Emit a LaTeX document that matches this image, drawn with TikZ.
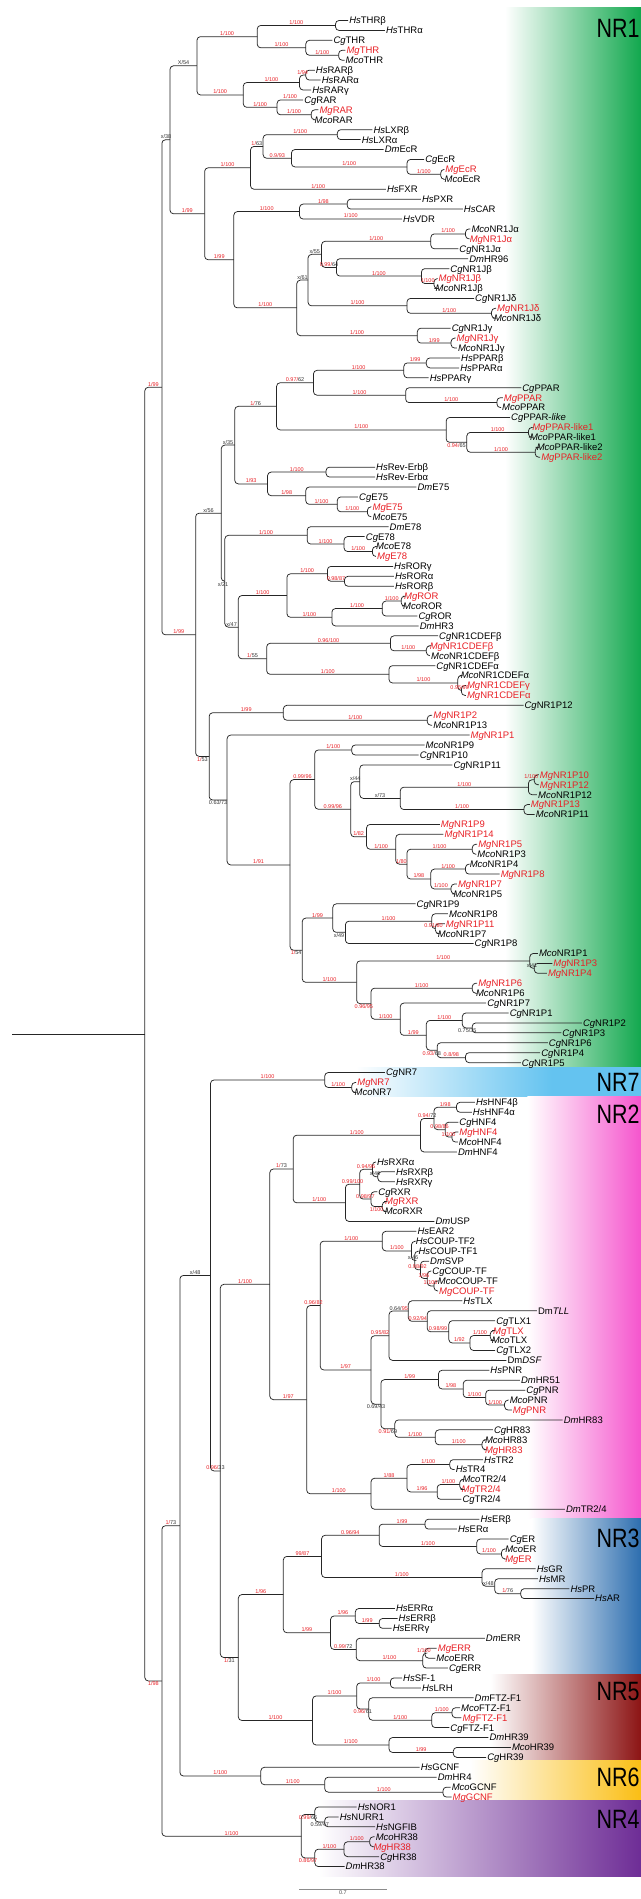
\documentclass[tikz,border=0pt]{standalone}
\usepackage{fontspec}
\setmainfont{Liberation Sans}
\usetikzlibrary{calc}
\definecolor{mgred}{RGB}{232,32,38}
\definecolor{nrone}{RGB}{18,168,78}
\definecolor{nrseven}{RGB}{100,195,240}
\definecolor{nrtwo}{RGB}{245,85,205}
\definecolor{nrthree}{RGB}{45,110,175}
\definecolor{nrfive}{RGB}{140,20,20}
\definecolor{nrsix}{RGB}{250,190,20}
\definecolor{nrfour}{RGB}{110,45,150}
\newcommand\unitx{0.4088pt}
\newcommand\gn[2]{\textit{#1}#2}
\newcommand\rd[1]{\textcolor{mgred}{#1}}
\newcommand\rowy[1]{20.5+9.925*#1}
% internal node: name, x, first child, last child, label to first, label to last
\newcommand\jn[6]{%
  \path let \p1=(#3), \p2=(#4) in coordinate (#1) at (#2*\unitx,{(\y1+\y2)/2});
  \draw[br] (#1) |- node[sl]{#5} (#3) (#1) |- node[sl]{#6} (#4);}
\newcommand\supb[3]{\path (#1) |- node[sl,below]{#3} (#2);}
\tikzset{
  br/.style={line width=.75pt,draw=black!85,rounded corners=3.5pt},
  lf/.style={anchor=west,inner xsep=1pt,inner ysep=0pt,text height=6.8pt,text depth=0pt,
    font=\fontsize{9.5}{10}\selectfont},
  mg/.style={lf,text=mgred},
  sl/.style={pos=.75,above,inner sep=.6pt,font=\fontsize{5.5}{6}\selectfont,text=black!80},
  nrlab/.style={anchor=east,inner sep=0pt,xscale=.81,font=\fontsize{26.5}{28}\selectfont}
}

\begin{document}
\begin{tikzpicture}[x=0.4088pt,y=-1pt]
\useasboundingbox (0,0) rectangle (1568,1899);
% family bands
\shade[left color=white,right color=nrone] (1235,7.3) rectangle (1568,1067);
\shade[left color=white,right color=nrseven] (870,1067) rectangle (1350,1096);
\fill[nrseven] (1350,1067) rectangle (1568,1096);
\shade[left color=white,right color=nrtwo] (1290,1096) rectangle (1568,1518);
\shade[left color=white,right color=nrthree] (1300,1518) rectangle (1568,1674);
\shade[left color=white,right color=nrfive] (1200,1674) rectangle (1568,1760);
\shade[left color=white,right color=nrsix] (1150,1760) rectangle (1568,1800);
\shade[left color=white,right color=nrfour] (780,1800) rectangle (1568,1876);
\node[nrlab] (lab1) at (1565,28) {NR1};
\node[nrlab] (lab7) at (1565,1082) {NR7};
\node[nrlab] (lab2) at (1565,1114) {NR2};
\node[nrlab] (lab3) at (1565,1538) {NR3};
\node[nrlab] (lab5) at (1565,1691) {NR5};
\node[nrlab] (lab6) at (1565,1777) {NR6};
\node[nrlab] (lab4) at (1565,1819) {NR4};

\begin{scope}[xscale=1.1,xshift=60*\unitx]
% leaves
\node[lf] (hsthrb) at (714,\rowy{0}) {\gn{Hs}{THRβ}};
\node[lf] (hsthra) at (796,\rowy{1}) {\gn{Hs}{THRα}};
\node[lf] (cgthr) at (679,\rowy{2}) {\gn{Cg}{THR}};
\node[mg] (mgthr) at (708,\rowy{3}) {\gn{Mg}{THR}};
\node[lf] (mcothr) at (706,\rowy{4}) {\gn{Mco}{THR}};
\node[lf] (hsrarb) at (640,\rowy{5}) {\gn{Hs}{RARβ}};
\node[lf] (hsrara) at (653,\rowy{6}) {\gn{Hs}{RARα}};
\node[lf] (hsrarg) at (632,\rowy{7}) {\gn{Hs}{RARγ}};
\node[lf] (cgrar) at (614,\rowy{8}) {\gn{Cg}{RAR}};
\node[mg] (mgrar) at (648,\rowy{9}) {\gn{Mg}{RAR}};
\node[lf] (mcorar) at (637,\rowy{10}) {\gn{Mco}{RAR}};
\node[lf] (hslxrb) at (768,\rowy{11}) {\gn{Hs}{LXRβ}};
\node[lf] (hslxra) at (742,\rowy{12}) {\gn{Hs}{LXRα}};
\node[lf] (dmecr) at (793,\rowy{13}) {\gn{Dm}{EcR}};
\node[lf] (cgecr) at (883,\rowy{14}) {\gn{Cg}{EcR}};
\node[mg] (mgecr) at (928,\rowy{15}) {\gn{Mg}{EcR}};
\node[lf] (mcoecr) at (926,\rowy{16}) {\gn{Mco}{EcR}};
\node[lf] (hsfxr) at (798,\rowy{17}) {\gn{Hs}{FXR}};
\node[lf] (hspxr) at (876,\rowy{18}) {\gn{Hs}{PXR}};
\node[lf] (hscar) at (969,\rowy{19}) {\gn{Hs}{CAR}};
\node[lf] (hsvdr) at (834,\rowy{20}) {\gn{Hs}{VDR}};
\node[lf] (mcoja) at (986,\rowy{21}) {\gn{Mco}{NR1Jα}};
\node[mg] (mgja) at (982,\rowy{22}) {\gn{Mg}{NR1Jα}};
\node[lf] (cgja) at (959,\rowy{23}) {\gn{Cg}{NR1Jα}};
\node[lf] (dmhr96) at (981,\rowy{24}) {\gn{Dm}{HR96}};
\node[lf] (cgjb) at (939,\rowy{25}) {\gn{Cg}{NR1Jβ}};
\node[mg] (mgjb) at (913,\rowy{26}) {\gn{Mg}{NR1Jβ}};
\node[lf] (mcojb) at (906,\rowy{27}) {\gn{Mco}{NR1Jβ}};
\node[lf] (cgjd) at (994,\rowy{28}) {\gn{Cg}{NR1Jδ}};
\node[mg] (mgjd) at (1043,\rowy{29}) {\gn{Mg}{NR1Jδ}};
\node[lf] (mcojd) at (1036,\rowy{30}) {\gn{Mco}{NR1Jδ}};
\node[lf] (cgjg) at (942,\rowy{31}) {\gn{Cg}{NR1Jγ}};
\node[mg] (mgjg) at (953,\rowy{32}) {\gn{Mg}{NR1Jγ}};
\node[lf] (mcojg) at (956,\rowy{33}) {\gn{Mco}{NR1Jγ}};
\node[lf] (hspparb) at (963,\rowy{34}) {\gn{Hs}{PPARβ}};
\node[lf] (hsppara) at (961,\rowy{35}) {\gn{Hs}{PPARα}};
\node[lf] (hspparg) at (893,\rowy{36}) {\gn{Hs}{PPARγ}};
\node[lf] (cgppar) at (1099,\rowy{37}) {\gn{Cg}{PPAR}};
\node[mg] (mgppar) at (1058,\rowy{38}) {\gn{Mg}{PPAR}};
\node[lf] (mcoppar) at (1054,\rowy{39}) {\gn{Mco}{PPAR}};
\node[lf] (cgpl) at (1074,\rowy{40}) {\gn{Cg}{PPAR-\textit{like}}};
\node[mg] (mgpl1) at (1121,\rowy{41}) {\gn{Mg}{PPAR-like1}};
\node[lf] (mcopl1) at (1116,\rowy{42}) {\gn{Mco}{PPAR-like1}};
\node[lf] (mcopl2) at (1131,\rowy{43}) {\gn{Mco}{PPAR-like2}};
\node[mg] (mgpl2) at (1141,\rowy{44}) {\gn{Mg}{PPAR-like2}};
\node[lf] (hsrevb) at (774,\rowy{45}) {\gn{Hs}{Rev-Erbβ}};
\node[lf] (hsreva) at (774,\rowy{46}) {\gn{Hs}{Rev-Erbα}};
\node[lf] (dme75) at (866,\rowy{47}) {\gn{Dm}{E75}};
\node[lf] (cge75) at (736,\rowy{48}) {\gn{Cg}{E75}};
\node[mg] (mge75) at (766,\rowy{49}) {\gn{Mg}{E75}};
\node[lf] (mcoe75) at (766,\rowy{50}) {\gn{Mco}{E75}};
\node[lf] (dme78) at (804,\rowy{51}) {\gn{Dm}{E78}};
\node[lf] (cge78) at (751,\rowy{52}) {\gn{Cg}{E78}};
\node[lf] (mcoe78) at (774,\rowy{53}) {\gn{Mco}{E78}};
\node[mg] (mge78) at (776,\rowy{54}) {\gn{Mg}{E78}};
\node[lf] (hsrorg) at (814,\rowy{55}) {\gn{Hs}{RORγ}};
\node[lf] (hsrora) at (816,\rowy{56}) {\gn{Hs}{RORα}};
\node[lf] (hsrorb) at (816,\rowy{57}) {\gn{Hs}{RORβ}};
\node[mg] (mgror) at (836,\rowy{58}) {\gn{Mg}{ROR}};
\node[lf] (mcoror) at (834,\rowy{59}) {\gn{Mco}{ROR}};
\node[lf] (cgror) at (868,\rowy{60}) {\gn{Cg}{ROR}};
\node[lf] (dmhr3) at (871,\rowy{61}) {\gn{Dm}{HR3}};
\node[lf] (cgcdb) at (914,\rowy{62}) {\gn{Cg}{NR1CDEFβ}};
\node[mg] (mgcdb) at (893,\rowy{63}) {\gn{Mg}{NR1CDEFβ}};
\node[lf] (mcocdb) at (896,\rowy{64}) {\gn{Mco}{NR1CDEFβ}};
\node[lf] (cgcda) at (908,\rowy{65}) {\gn{Cg}{NR1CDEFα}};
\node[lf] (mcocda) at (962,\rowy{66}) {\gn{Mco}{NR1CDEFα}};
\node[mg] (mgcdg) at (976,\rowy{67}) {\gn{Mg}{NR1CDEFγ}};
\node[mg] (mgcda) at (976,\rowy{68}) {\gn{Mg}{NR1CDEFα}};
\node[lf] (cgp12) at (1104,\rowy{69}) {\gn{Cg}{NR1P12}};
\node[mg] (mgp2) at (901,\rowy{70}) {\gn{Mg}{NR1P2}};
\node[lf] (mcop13) at (901,\rowy{71}) {\gn{Mco}{NR1P13}};
\node[mg] (mgp1) at (984,\rowy{72}) {\gn{Mg}{NR1P1}};
\node[lf] (mcop9) at (884,\rowy{73}) {\gn{Mco}{NR1P9}};
\node[lf] (cgp10) at (871,\rowy{74}) {\gn{Cg}{NR1P10}};
\node[lf] (cgp11) at (946,\rowy{75}) {\gn{Cg}{NR1P11}};
\node[mg] (mgp10) at (1138,\rowy{76}) {\gn{Mg}{NR1P10}};
\node[mg] (mgp12) at (1138,\rowy{77}) {\gn{Mg}{NR1P12}};
\node[lf] (mcop12) at (1134,\rowy{78}) {\gn{Mco}{NR1P12}};
\node[mg] (mgp13) at (1118,\rowy{79}) {\gn{Mg}{NR1P13}};
\node[lf] (mcop11) at (1129,\rowy{80}) {\gn{Mco}{NR1P11}};
\node[mg] (mgp9) at (918,\rowy{81}) {\gn{Mg}{NR1P9}};
\node[mg] (mgp14) at (926,\rowy{82}) {\gn{Mg}{NR1P14}};
\node[mg] (mgp5) at (1001,\rowy{83}) {\gn{Mg}{NR1P5}};
\node[lf] (mcop3) at (999,\rowy{84}) {\gn{Mco}{NR1P3}};
\node[lf] (mcop4) at (982,\rowy{85}) {\gn{Mco}{NR1P4}};
\node[mg] (mgp8) at (1051,\rowy{86}) {\gn{Mg}{NR1P8}};
\node[mg] (mgp7) at (956,\rowy{87}) {\gn{Mg}{NR1P7}};
\node[lf] (mcop5) at (946,\rowy{88}) {\gn{Mco}{NR1P5}};
\node[lf] (cgp9) at (864,\rowy{89}) {\gn{Cg}{NR1P9}};
\node[lf] (mcop8) at (936,\rowy{90}) {\gn{Mco}{NR1P8}};
\node[mg] (mgp11) at (929,\rowy{91}) {\gn{Mg}{NR1P11}};
\node[lf] (mcop7) at (911,\rowy{92}) {\gn{Mco}{NR1P7}};
\node[lf] (cgp8) at (993,\rowy{93}) {\gn{Cg}{NR1P8}};
\node[lf] (mcop1) at (1136,\rowy{94}) {\gn{Mco}{NR1P1}};
\node[mg] (mgp3) at (1168,\rowy{95}) {\gn{Mg}{NR1P3}};
\node[mg] (mgp4) at (1156,\rowy{96}) {\gn{Mg}{NR1P4}};
\node[mg] (mgp6) at (1001,\rowy{97}) {\gn{Mg}{NR1P6}};
\node[lf] (mcop6) at (996,\rowy{98}) {\gn{Mco}{NR1P6}};
\node[lf] (cgp7) at (1021,\rowy{99}) {\gn{Cg}{NR1P7}};
\node[lf] (cgp1) at (1071,\rowy{100}) {\gn{Cg}{NR1P1}};
\node[lf] (cgp2) at (1234,\rowy{101}) {\gn{Cg}{NR1P2}};
\node[lf] (cgp3) at (1188,\rowy{102}) {\gn{Cg}{NR1P3}};
\node[lf] (cgp6) at (1158,\rowy{103}) {\gn{Cg}{NR1P6}};
\node[lf] (cgp4) at (1141,\rowy{104}) {\gn{Cg}{NR1P4}};
\node[lf] (cgp5) at (1098,\rowy{105}) {\gn{Cg}{NR1P5}};
\node[lf] (cgnr7) at (796,\rowy{106}) {\gn{Cg}{NR7}};
\node[mg] (mgnr7) at (732,\rowy{107}) {\gn{Mg}{NR7}};
\node[lf] (mconr7) at (726,\rowy{108}) {\gn{Mco}{NR7}};
\node[lf] (hshnfb) at (996,\rowy{109}) {\gn{Hs}{HNF4β}};
\node[lf] (hshnfa) at (989,\rowy{110}) {\gn{Hs}{HNF4α}};
\node[lf] (cghnf) at (959,\rowy{111}) {\gn{Cg}{HNF4}};
\node[mg] (mghnf) at (959,\rowy{112}) {\gn{Mg}{HNF4}};
\node[lf] (mcohnf) at (958,\rowy{113}) {\gn{Mco}{HNF4}};
\node[lf] (dmhnf) at (956,\rowy{114}) {\gn{Dm}{HNF4}};
\node[lf] (hsrxra) at (776,\rowy{115}) {\gn{Hs}{RXRα}};
\node[lf] (hsrxrb) at (818,\rowy{116}) {\gn{Hs}{RXRβ}};
\node[lf] (hsrxrg) at (818,\rowy{117}) {\gn{Hs}{RXRγ}};
\node[lf] (cgrxr) at (779,\rowy{118}) {\gn{Cg}{RXR}};
\node[mg] (mgrxr) at (794,\rowy{119}) {\gn{Mg}{RXR}};
\node[lf] (mcorxr) at (793,\rowy{120}) {\gn{Mco}{RXR}};
\node[lf] (dmusp) at (906,\rowy{121}) {\gn{Dm}{USP}};
\node[lf] (hsear) at (866,\rowy{122}) {\gn{Hs}{EAR2}};
\node[lf] (hscoup2) at (862,\rowy{123}) {\gn{Hs}{COUP-TF2}};
\node[lf] (hscoup1) at (868,\rowy{124}) {\gn{Hs}{COUP-TF1}};
\node[lf] (dmsvp) at (894,\rowy{125}) {\gn{Dm}{SVP}};
\node[lf] (cgcoup) at (899,\rowy{126}) {\gn{Cg}{COUP-TF}};
\node[lf] (mcocoup) at (911,\rowy{127}) {\gn{Mco}{COUP-TF}};
\node[mg] (mgcoup) at (914,\rowy{128}) {\gn{Mg}{COUP-TF}};
\node[lf] (hstlx) at (968,\rowy{129}) {\gn{Hs}{TLX}};
\node[lf] (dmtll) at (1134,\rowy{130}) {Dm\textit{TLL}};
\node[lf] (cgtlx1) at (1041,\rowy{131}) {\gn{Cg}{TLX1}};
\node[mg] (mgtlx) at (1034,\rowy{132}) {\gn{Mg}{TLX}};
\node[lf] (mcotlx) at (1031,\rowy{133}) {\gn{Mco}{TLX}};
\node[lf] (cgtlx2) at (1041,\rowy{134}) {\gn{Cg}{TLX2}};
\node[lf] (dmdsf) at (1066,\rowy{135}) {Dm\textit{DSF}};
\node[lf] (hspnr) at (1028,\rowy{136}) {\gn{Hs}{PNR}};
\node[lf] (dmhr51) at (1096,\rowy{137}) {\gn{Dm}{HR51}};
\node[lf] (cgpnr) at (1108,\rowy{138}) {\gn{Cg}{PNR}};
\node[lf] (mcopnr) at (1071,\rowy{139}) {\gn{Mco}{PNR}};
\node[mg] (mgpnr) at (1078,\rowy{140}) {\gn{Mg}{PNR}};
\node[lf] (dmhr83) at (1191,\rowy{141}) {\gn{Dm}{HR83}};
\node[lf] (cghr83) at (1036,\rowy{142}) {\gn{Cg}{HR83}};
\node[lf] (mcohr83) at (1016,\rowy{143}) {\gn{Mco}{HR83}};
\node[mg] (mghr83) at (1016,\rowy{144}) {\gn{Mg}{HR83}};
\node[lf] (hstr2) at (1014,\rowy{145}) {\gn{Hs}{TR2}};
\node[lf] (hstr4) at (951,\rowy{146}) {\gn{Hs}{TR4}};
\node[lf] (mcotr) at (966,\rowy{147}) {\gn{Mco}{TR2/4}};
\node[mg] (mgtr) at (964,\rowy{148}) {\gn{Mg}{TR2/4}};
\node[lf] (cgtr) at (966,\rowy{149}) {\gn{Cg}{TR2/4}};
\node[lf] (dmtr) at (1196,\rowy{150}) {\gn{Dm}{TR2/4}};
\node[lf] (hserb) at (1006,\rowy{151}) {\gn{Hs}{ERβ}};
\node[lf] (hsera) at (956,\rowy{152}) {\gn{Hs}{ERα}};
\node[lf] (cger) at (1071,\rowy{153}) {\gn{Cg}{ER}};
\node[lf] (mcoer) at (1061,\rowy{154}) {\gn{Mco}{ER}};
\node[mg] (mger) at (1061,\rowy{155}) {\gn{Mg}{ER}};
\node[lf] (hsgr) at (1131,\rowy{156}) {\gn{Hs}{GR}};
\node[lf] (hsmr) at (1136,\rowy{157}) {\gn{Hs}{MR}};
\node[lf] (hspr) at (1206,\rowy{158}) {\gn{Hs}{PR}};
\node[lf] (hsar) at (1261,\rowy{159}) {\gn{Hs}{AR}};
\node[lf] (hserra) at (818,\rowy{160}) {\gn{Hs}{ERRα}};
\node[lf] (hserrb) at (824,\rowy{161}) {\gn{Hs}{ERRβ}};
\node[lf] (hserrg) at (811,\rowy{162}) {\gn{Hs}{ERRγ}};
\node[lf] (dmerr) at (1018,\rowy{163}) {\gn{Dm}{ERR}};
\node[mg] (mgerr) at (911,\rowy{164}) {\gn{Mg}{ERR}};
\node[lf] (mcoerr) at (908,\rowy{165}) {\gn{Mco}{ERR}};
\node[lf] (cgerr) at (936,\rowy{166}) {\gn{Cg}{ERR}};
\node[lf] (hssf) at (834,\rowy{167}) {\gn{Hs}{SF-1}};
\node[lf] (hslrh) at (876,\rowy{168}) {\gn{Hs}{LRH}};
\node[lf] (dmftz) at (993,\rowy{169}) {\gn{Dm}{FTZ-F1}};
\node[lf] (mcoftz) at (963,\rowy{170}) {\gn{Mco}{FTZ-F1}};
\node[mg] (mgftz) at (966,\rowy{171}) {\gn{Mg}{FTZ-F1}};
\node[lf] (cgftz) at (939,\rowy{172}) {\gn{Cg}{FTZ-F1}};
\node[lf] (dmhr39) at (1026,\rowy{173}) {\gn{Dm}{HR39}};
\node[lf] (mcohr39) at (1076,\rowy{174}) {\gn{Mco}{HR39}};
\node[lf] (cghr39) at (1021,\rowy{175}) {\gn{Cg}{HR39}};
\node[lf] (hsgcnf) at (873,\rowy{176}) {\gn{Hs}{GCNF}};
\node[lf] (dmhr4) at (911,\rowy{177}) {\gn{Dm}{HR4}};
\node[lf] (mcogcnf) at (942,\rowy{178}) {\gn{Mco}{GCNF}};
\node[mg] (mggcnf) at (944,\rowy{179}) {\gn{Mg}{GCNF}};
\node[lf] (hsnor) at (733,\rowy{180}) {\gn{Hs}{NOR1}};
\node[lf] (hsnurr) at (693,\rowy{181}) {\gn{Hs}{NURR1}};
\node[lf] (hsngfib) at (774,\rowy{182}) {\gn{Hs}{NGFIB}};
\node[lf] (mcohr38) at (773,\rowy{183}) {\gn{Mco}{HR38}};
\node[mg] (mghr38) at (768,\rowy{184}) {\gn{Mg}{HR38}};
\node[lf] (cghr38) at (783,\rowy{185}) {\gn{Cg}{HR38}};
\node[lf] (dmhr38) at (706,\rowy{186}) {\gn{Dm}{HR38}};

% NR1
\jn{thr1}{686}{hsthrb}{hsthra}{}{}
\jn{thr2}{693}{mgthr}{mcothr}{}{}
\jn{thr3}{620}{cgthr}{thr2}{}{\rd{1/100}}
\jn{thr4}{512}{thr1}{thr3}{\rd{1/100}}{\rd{1/100}}
\jn{rar1}{620}{hsrarb}{hsrara}{}{}
\jn{rar2}{606}{rar1}{hsrarg}{\rd{1/94}}{}
\jn{rar3}{632}{mgrar}{mcorar}{}{}
\jn{rar4}{556}{cgrar}{rar3}{\rd{1/100}}{\rd{1/100}}
\jn{rar5}{481}{rar2}{rar4}{\rd{1/100}}{\rd{1/100}}
\jn{thrrar}{378}{thr4}{rar5}{\rd{1/100}}{\rd{1/100}}
\jn{lxr}{690}{hslxrb}{hslxra}{}{}
\jn{ecr1}{920}{mgecr}{mcoecr}{}{}
\jn{ecr2}{845}{cgecr}{ecr1}{}{\rd{1/100}}
\jn{ecr3}{588}{dmecr}{ecr2}{}{\rd{1/100}}
\jn{lxecr}{525}{lxr}{ecr3}{\rd{1/100}}{\rd{0.9/93}}
\jn{fxr}{497}{lxecr}{hsfxr}{\rd{1/}63}{\rd{1/100}}
\jn{pxr1}{712}{hspxr}{hscar}{}{}
\jn{pxr2}{606}{pxr1}{hsvdr}{\rd{1/98}}{\rd{1/100}}
\jn{j1}{975}{mcoja}{mgja}{}{}
\jn{j2}{898}{j1}{cgja}{\rd{1/100}}{}
\jn{j3}{905}{mgjb}{mcojb}{}{}
\jn{j4}{877}{cgjb}{j3}{}{\rd{1/100}}
\jn{j5}{688}{dmhr96}{j4}{}{\rd{1/100}}
\jn{j6}{655}{j2}{j5}{\rd{1/100}}{\rd{0.99/}64}
\jn{jd1}{1033}{mgjd}{mcojd}{}{}
\jn{jd2}{845}{cgjd}{jd1}{}{\rd{1/100}}
\jn{j7}{625}{j6}{jd2}{x/55}{\rd{1/100}}
\jn{jg1}{943}{mgjg}{mcojg}{}{}
\jn{jg2}{868}{cgjg}{jg1}{}{\rd{1/99}}
\jn{j8}{600}{j7}{jg2}{x/61}{\rd{1/100}}
\jn{pxj}{460}{pxr2}{j8}{\rd{1/100}}{\rd{1/100}}
\jn{fxpx}{395}{fxr}{pxj}{\rd{1/100}}{\rd{1/99}}
\jn{nr1a}{318}{thrrar}{fxpx}{X/54}{\rd{1/99}}
\jn{pp1}{888}{hspparb}{hsppara}{}{}
\jn{pp2}{838}{pp1}{hspparg}{\rd{1/99}}{}
\jn{pp3}{1045}{mgppar}{mcoppar}{}{}
\jn{pp4}{842}{cgppar}{pp3}{}{\rd{1/100}}
\jn{pp5}{637}{pp2}{pp4}{\rd{1/100}}{\rd{1/100}}
\jn{pl1}{1115}{mgpl1}{mcopl1}{}{}
\jn{pl2}{1130}{mcopl2}{mgpl2}{}{}
\jn{pl3}{978}{pl1}{pl2}{\rd{1/100}}{\rd{1/100}}
\jn{pl4}{932}{cgpl}{pl3}{}{}
\supb{pl4}{pl3}{\rd{0.94/}65}
\jn{pp6}{555}{pp5}{pl4}{\rd{0.97/}62}{\rd{1/100}}
\jn{re1}{665}{hsrevb}{hsreva}{}{}
\jn{e75a}{757}{mge75}{mcoe75}{}{}
\jn{e75b}{690}{cge75}{e75a}{}{\rd{1/100}}
\jn{e75c}{620}{dme75}{e75b}{}{\rd{1/100}}
\jn{re2}{535}{re1}{e75c}{\rd{1/100}}{\rd{1/98}}
\jn{pprev}{462}{pp6}{re2}{\rd{1/}76}{\rd{1/93}}
\jn{e78a}{768}{mcoe78}{mge78}{}{}
\jn{e78b}{705}{cge78}{e78a}{}{\rd{1/100}}
\jn{e78c}{623}{dme78}{e78b}{}{\rd{1/100}}
\jn{ror1}{706}{hsrora}{hsrorb}{}{}
\jn{ror2}{668}{hsrorg}{ror1}{}{\rd{0.98/87}}
\jn{ror3}{832}{mgror}{mcoror}{}{}
\jn{ror4}{790}{ror3}{cgror}{\rd{1/100}}{}
\jn{ror5}{678}{ror4}{dmhr3}{\rd{1/100}}{}
\jn{ror6}{578}{ror2}{ror5}{\rd{1/100}}{\rd{1/100}}
\jn{cd1}{888}{mgcdb}{mcocdb}{}{}
\jn{cd2}{808}{cgcdb}{cd1}{}{\rd{1/100}}
\jn{cd3}{966}{mgcdg}{mgcda}{}{}
\jn{cd4}{958}{mcocda}{cd3}{}{\rd{0.95/90}}
\jn{cd5}{805}{cgcda}{cd4}{}{\rd{1/100}}
\jn{cd6}{533}{cd2}{cd5}{\rd{0.96/100}}{\rd{1/100}}
\jn{ror7}{470}{ror6}{cd6}{\rd{1/100}}{\rd{1/}55}
\jn{e78r}{440}{e78c}{ror7}{\rd{1/100}}{x/47}
\jn{nr1b}{432}{pprev}{e78r}{x/35}{}
\supb{nr1b}{e78r}{x/21}
\jn{p12a}{890}{mgp2}{mcop13}{}{}
\jn{p12b}{570}{cgp12}{p12a}{}{\rd{1/100}}
\jn{p9a}{722}{mcop9}{cgp10}{}{}
\jn{p10a}{1128}{mgp10}{mgp12}{}{}
\jn{p10b}{1115}{p10a}{mcop12}{\rd{1/100}}{}
\jn{p13}{1105}{mgp13}{mcop11}{}{}
\jn{q8}{830}{p10b}{p13}{\rd{1/100}}{\rd{1/100}}
\jn{q6}{740}{cgp11}{q8}{}{x/73}
\jn{p5}{990}{mgp5}{mcop3}{}{}
\jn{p4}{975}{mcop4}{mgp8}{}{}
\jn{p7}{943}{mgp7}{mcop5}{}{}
\jn{q11}{898}{p4}{p7}{\rd{1/100}}{\rd{1/100}}
\jn{q10}{845}{p5}{q11}{\rd{1/100}}{\rd{1/98}}
\jn{q9}{820}{mgp14}{q10}{}{\rd{1/80}}
\jn{q7}{755}{mgp9}{q9}{}{\rd{1/100}}
\jn{q5}{720}{q6}{q7}{x/44}{\rd{1/82}}
\jn{q3}{640}{p9a}{q5}{\rd{1/100}}{\rd{0.99/96}}
\jn{p11}{908}{mgp11}{mcop7}{}{}
\jn{p8}{900}{mcop8}{p11}{}{\rd{0.91/80}}
\jn{q14}{708}{p8}{cgp8}{\rd{1/100}}{}
\jn{q12}{680}{cgp9}{q14}{}{}
\supb{q12}{q14}{x/49}
\jn{p1a}{1128}{mgp3}{mgp4}{}{}
\jn{p1b}{1118}{mcop1}{p1a}{}{x/41}
\jn{p6}{990}{mgp6}{mcop6}{}{}
\jn{q20}{990}{cgp2}{cgp3}{}{}
\jn{q18}{968}{cgp1}{q20}{}{}
\supb{q18}{q20}{0.75/35}
\jn{q21}{975}{cgp4}{cgp5}{}{}
\jn{q19}{912}{cgp6}{q21}{}{\rd{0.8/98}}
\jn{q17}{888}{q18}{q19}{\rd{1/100}}{}
\supb{q17}{q19}{\rd{0.93/}68}
\jn{q16}{830}{cgp7}{q17}{}{\rd{1/99}}
\jn{q15}{765}{p6}{q16}{\rd{1/100}}{\rd{1/100}}
\jn{q13}{733}{p1b}{q15}{\rd{1/100}}{}
\supb{q13}{q15}{\rd{0.96/95}}
\jn{q4}{612}{q12}{q13}{\rd{1/99}}{\rd{1/100}}
\jn{q2}{585}{q3}{q4}{\rd{0.99/96}}{}
\supb{q2}{q4}{\rd{1/}54}
\jn{q1}{445}{mgp1}{q2}{}{\rd{1/91}}
\jn{nr1p}{405}{p12b}{q1}{\rd{1/99}}{}
\supb{nr1p}{q1}{0.63/73}
\jn{nr1c}{375}{nr1b}{nr1p}{x/56}{}
\supb{nr1c}{nr1p}{\rd{1/}53}
\jn{nr1}{300}{nr1a}{nr1c}{x/38}{\rd{1/99}}

% NR7, NR2
\jn{n7a}{722}{mgnr7}{mconr7}{}{}
\jn{n7b}{662}{cgnr7}{n7a}{}{\rd{1/100}}
\jn{hnf1}{955}{hshnfb}{hshnfa}{}{}
\jn{hnf2}{945}{mghnf}{mcohnf}{}{}
\jn{hnf3}{930}{cghnf}{hnf2}{}{\rd{1/100}}
\jn{hnf4}{905}{hnf1}{hnf3}{\rd{1/98}}{\rd{0.98/86}}
\jn{hnf5}{875}{hnf4}{dmhnf}{\rd{0.94/}72}{}
\jn{rxr1}{780}{hsrxrb}{hsrxrg}{}{}
\jn{rxr2}{768}{hsrxra}{rxr1}{}{x/46}
\jn{rxr3}{790}{mgrxr}{mcorxr}{}{}
\jn{rxr4}{765}{cgrxr}{rxr3}{}{}
\supb{rxr4}{rxr3}{\rd{1/100}}
\jn{rxr5}{740}{rxr2}{rxr4}{\rd{0.94/96}}{\rd{0.98/97}}
\jn{rxr6}{708}{rxr5}{dmusp}{\rd{0.99/100}}{}
\jn{hr}{592}{hnf5}{rxr6}{\rd{1/100}}{\rd{1/100}}
\jn{c1}{905}{mcocoup}{mgcoup}{}{}
\jn{c2}{890}{cgcoup}{c1}{}{\rd{1/100}}
\jn{c3}{875}{dmsvp}{c2}{}{\rd{1/96}}
\jn{c4}{862}{hscoup1}{c3}{}{\rd{0.98/92}}
\jn{c5}{855}{hscoup2}{c4}{}{x/46}
\jn{c6}{790}{hsear}{c5}{}{\rd{1/100}}
\jn{t1}{1030}{mgtlx}{mcotlx}{}{}
\jn{t2}{985}{t1}{cgtlx2}{\rd{1/100}}{}
\jn{t3}{938}{cgtlx1}{t2}{}{\rd{1/92}}
\jn{t4}{890}{dmtll}{t3}{}{\rd{0.98/99}}
\jn{t5}{848}{hstlx}{t4}{}{\rd{0.92/94}}
\jn{t6}{805}{t5}{dmdsf}{0.64/\rd{95}}{}
\jn{pnr1}{1062}{mcopnr}{mgpnr}{}{}
\jn{pnr2}{1020}{cgpnr}{pnr1}{}{\rd{1/100}}
\jn{pnr3}{970}{dmhr51}{pnr2}{}{\rd{1/100}}
\jn{pnr4}{915}{hspnr}{pnr3}{}{\rd{1/98}}
\jn{hr83a}{1012}{mcohr83}{mghr83}{}{}
\jn{hr83b}{908}{cghr83}{hr83a}{}{\rd{1/100}}
\jn{hr83c}{818}{dmhr83}{hr83b}{}{\rd{1/100}}
\jn{pnr5}{787}{pnr4}{hr83c}{\rd{1/99}}{}
\supb{pnr5}{hr83c}{\rd{0.91/}69}
\jn{tp}{765}{t6}{pnr5}{\rd{0.95/82}}{}
\supb{tp}{pnr5}{0.69/43}
\jn{c7}{652}{c6}{tp}{\rd{1/100}}{\rd{1/97}}
\jn{tr1}{940}{hstr2}{hstr4}{}{}
\jn{tr2}{962}{mcotr}{mgtr}{}{}
\jn{tr3}{912}{tr2}{cgtr}{\rd{1/100}}{}
\jn{tr4}{845}{tr1}{tr3}{\rd{1/100}}{\rd{1/96}}
\jn{tr5}{765}{tr4}{dmtr}{\rd{1/88}}{}
\jn{c8}{622}{c7}{tr5}{\rd{0.96/82}}{\rd{1/100}}
\jn{nr2}{540}{hr}{c8}{\rd{1/}73}{\rd{1/97}}

% NR3, NR5
\jn{er1}{885}{hserb}{hsera}{}{}
\jn{er2}{1055}{mcoer}{mger}{}{}
\jn{er3}{1000}{cger}{er2}{}{\rd{1/100}}
\jn{er4}{783}{er1}{er3}{\rd{1/99}}{\rd{1/100}}
\jn{gr1}{1098}{hspr}{hsar}{}{}
\jn{gr2}{1040}{hsmr}{gr1}{}{\rd{1/}76}
\jn{gr3}{1012}{hsgr}{gr2}{}{x/48}
\jn{er5}{655}{er4}{gr3}{\rd{0.96/94}}{\rd{1/100}}
\jn{err1}{783}{hserrb}{hserrg}{}{}
\jn{err2}{730}{hserra}{err1}{}{\rd{1/99}}
\jn{err3}{885}{mgerr}{mcoerr}{}{}
\jn{err4}{880}{err3}{cgerr}{\rd{1/100}}{}
\jn{err5}{732}{dmerr}{err4}{}{\rd{1/100}}
\jn{err6}{675}{err2}{err5}{\rd{1/96}}{\rd{0.99/}72}
\jn{nr3}{570}{er5}{err6}{\rd{99/87}}{\rd{1/99}}
\jn{sf1}{808}{hssf}{hslrh}{}{}
\jn{ftz1}{945}{mcoftz}{mgftz}{}{}
\jn{ftz2}{900}{ftz1}{cgftz}{\rd{1/100}}{}
\jn{ftz3}{760}{dmftz}{ftz2}{}{\rd{1/100}}
\jn{sf2}{733}{sf1}{ftz3}{\rd{1/100}}{}
\supb{sf2}{ftz3}{\rd{0.96/}61}
\jn{hr39a}{948}{mcohr39}{cghr39}{}{}
\jn{hr39b}{805}{dmhr39}{hr39a}{}{\rd{1/99}}
\jn{nr5}{635}{sf2}{hr39b}{\rd{1/100}}{\rd{1/100}}
\jn{t35}{470}{nr3}{nr5}{\rd{1/96}}{\rd{1/100}}
\jn{s2}{430}{nr2}{t35}{\rd{1/100}}{}
\supb{s2}{t35}{\rd{1/}31}
\jn{s1}{408}{n7b}{s2}{\rd{1/100}}{\rd{0.96/}33}

% NR6, NR4
\jn{g1}{925}{mcogcnf}{mggcnf}{}{}
\jn{g2}{662}{dmhr4}{g1}{}{\rd{1/100}}
\jn{nr6}{520}{hsgcnf}{g2}{}{\rd{1/100}}
\jn{u}{340}{s1}{nr6}{x/48}{\rd{1/100}}
\jn{nr4a}{662}{hsnurr}{hsngfib}{}{}
\jn{nr4b}{640}{hsnor}{nr4a}{}{}
\supb{nr4b}{nr4a}{0.59/47}
\jn{hr38a}{762}{mcohr38}{mghr38}{}{}
\jn{hr38b}{705}{hr38a}{cghr38}{\rd{1/100}}{}
\jn{hr38c}{640}{hr38b}{dmhr38}{\rd{1/100}}{}
\jn{nr4}{610}{nr4b}{hr38c}{}{}
\supb{nr4}{nr4b}{\rd{0.99/}66}
\supb{nr4}{hr38c}{\rd{0.86/97}}
\jn{low}{300}{u}{nr4}{\rd{1/}73}{\rd{1/100}}
\jn{root}{262}{nr1}{low}{\rd{1/99}}{}
\supb{root}{low}{\rd{1/98}}

% scale bar
\coordinate (sbl) at (605,1889.5);
\coordinate (sbr) at (800,1889.5);
\draw[line width=.8pt,black!45] (sbl) -- node[below,inner sep=1pt,font=\fontsize{5.5}{6}\selectfont,text=black!70] {0.7} (sbr);
\end{scope}
\path let \p1=(root) in coordinate (base) at (30,\y1);
\draw[br] (base) -- (root);
\end{tikzpicture}
\end{document}
